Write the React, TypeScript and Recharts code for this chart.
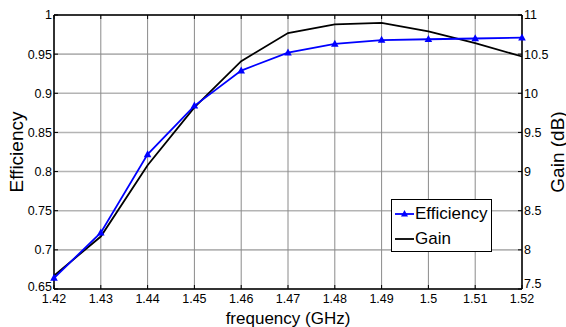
import React from 'react'
import { ComposedChart, Line, XAxis, YAxis, CartesianGrid, Legend } from 'recharts'

const freq = [1.42, 1.43, 1.44, 1.45, 1.46, 1.47, 1.48, 1.49, 1.5, 1.51, 1.52]
const efficiency = [0.664, 0.722, 0.822, 0.884, 0.929, 0.952, 0.963, 0.968, 0.969, 0.97, 0.971]
const gain = [7.67, 8.17, 9.08, 9.82, 10.41, 10.77, 10.88, 10.9, 10.79, 10.64, 10.47]

const freqTicks = [1.42, 1.43, 1.44, 1.45, 1.46, 1.47, 1.48, 1.49, 1.5, 1.51, 1.52]
const effTicks = [0.65, 0.7, 0.75, 0.8, 0.85, 0.9, 0.95, 1]
const gainTicks = [7.5, 8, 8.5, 9, 9.5, 10, 10.5, 11]

const data = freq.map((f, i) => ({ freq: f, efficiency: efficiency[i], gain: gain[i] }))

const W = 566
const H = 327
const FONT = '"Liberation Sans", Arial, sans-serif'

const fmt = (v: number) => String(+v.toFixed(2))

function Triangle(props: any) {
  const { cx, cy, index } = props
  if (cx == null || cy == null) return <g key={index} />
  return <path key={index} d={`M${cx},${cy - 4.2} L${cx + 3.8},${cy + 2.8} L${cx - 3.8},${cy + 2.8} Z`} fill="#0000ff" />
}

// y tick labels; the lowest one sits a bit higher so it clears the x labels
function yTick(lowest: number, lift: number) {
  return (props: any) => {
    const { x, y, payload, textAnchor } = props
    const up = payload.value === lowest ? lift : 0
    return (
      <text x={x} y={y - up} dy="0.355em" textAnchor={textAnchor} fontSize={12.5} fontFamily={FONT} fill="#000">
        {fmt(payload.value)}
      </text>
    )
  }
}

function LegendBox() {
  const row = { display: 'flex', alignItems: 'center', height: 25, lineHeight: '25px' }
  return (
    <div style={{ width: 101, height: 53, boxSizing: 'border-box', border: '1px solid #000', background: '#fff', fontFamily: FONT, fontSize: 17, color: '#000', paddingTop: 1 }}>
      <div style={row}>
        <svg width={21} height={12} style={{ marginLeft: 2 }}>
          <line x1={1} y1={6} x2={20} y2={6} stroke="#0000ff" strokeWidth={1.8} />
          <path d="M10.5,2 L14,8.5 L7,8.5 Z" fill="#0000ff" />
        </svg>
        <span>Efficiency</span>
      </div>
      <div style={row}>
        <svg width={21} height={12} style={{ marginLeft: 2 }}>
          <line x1={1} y1={6} x2={20} y2={6} stroke="#000" strokeWidth={1.8} />
        </svg>
        <span>Gain</span>
      </div>
    </div>
  )
}

export default function App() {
  return (
    <div style={{ position: 'absolute', left: 0, top: 0, width: W, height: H, background: '#fff' }}>
      <ComposedChart width={W} height={H} data={data} margin={{ top: 0, right: 0, bottom: 0, left: 0 }}>
        {/* horizontal lines come out lighter/thicker than vertical ones in the original */}
        <CartesianGrid yAxisId="eff" vertical={false} stroke="#b4b4b4" strokeWidth={1.6} />
        <CartesianGrid yAxisId="eff" horizontal={false} stroke="#8a8a8a" strokeWidth={1} />
        <XAxis
          dataKey="freq"
          type="number"
          domain={[1.42, 1.52]}
          ticks={freqTicks}
          tickFormatter={fmt}
          height={38}
          tickSize={-4}
          tickMargin={9}
          axisLine={{ stroke: '#000', strokeWidth: 1.5 }}
          tickLine={{ stroke: '#000' }}
          tick={{ fill: '#000', fontSize: 12.5, fontFamily: FONT }}
          interval={0}
          label={(p: any) => (
            <text x={p.viewBox.x + p.viewBox.width / 2} y={p.viewBox.y + 29} textAnchor="middle" dominantBaseline="central" fontSize={17} fontFamily={FONT} fill="#000">
              frequency (GHz)
            </text>
          )}
        />
        <XAxis
          xAxisId="top"
          orientation="top"
          dataKey="freq"
          type="number"
          domain={[1.42, 1.52]}
          ticks={freqTicks}
          tickFormatter={() => ''}
          height={15}
          tickSize={-4}
          axisLine={{ stroke: '#000', strokeWidth: 1.5 }}
          tickLine={{ stroke: '#000' }}
          interval={0}
        />
        <YAxis
          yAxisId="eff"
          domain={[0.65, 1]}
          ticks={effTicks}
          width={54}
          tickSize={-4}
          tickMargin={6}
          axisLine={{ stroke: '#000', strokeWidth: 1.5 }}
          tickLine={{ stroke: '#000' }}
          tick={yTick(0.65, 2)}
          interval={0}
          allowDataOverflow
          label={(p: any) => {
            const x = p.viewBox.x + 16
            const y = p.viewBox.y + p.viewBox.height / 2
            return (
              <text x={x} y={y} transform={`rotate(-90, ${x}, ${y})`} textAnchor="middle" dominantBaseline="central" fontSize={19} fontFamily={FONT} fill="#000">
                Efficiency
              </text>
            )
          }}
        />
        <YAxis
          yAxisId="gain"
          orientation="right"
          domain={[7.5, 11]}
          ticks={gainTicks}
          width={44}
          tickSize={-4}
          tickMargin={6}
          axisLine={{ stroke: '#000', strokeWidth: 1.5 }}
          tickLine={{ stroke: '#000' }}
          tick={yTick(7.5, 5)}
          interval={0}
          allowDataOverflow
          label={(p: any) => {
            const x = p.viewBox.x + 35
            const y = p.viewBox.y + p.viewBox.height / 2
            return (
              <text x={x} y={y} transform={`rotate(-90, ${x}, ${y})`} textAnchor="middle" dominantBaseline="central" fontSize={19} fontFamily={FONT} fill="#000">
                Gain (dB)
              </text>
            )
          }}
        />
        <Legend
          layout="horizontal"
          verticalAlign="middle"
          content={() => <LegendBox />}
          wrapperStyle={{ position: 'absolute', left: 391, top: 199, width: 101, height: 53 }}
        />
        <Line yAxisId="gain" type="linear" dataKey="gain" stroke="#000" strokeWidth={1.8} dot={false} isAnimationActive={false} legendType="line" />
        <Line yAxisId="eff" type="linear" dataKey="efficiency" stroke="#0000ff" strokeWidth={1.8} dot={Triangle} isAnimationActive={false} legendType="triangle" />
      </ComposedChart>
    </div>
  )
}
